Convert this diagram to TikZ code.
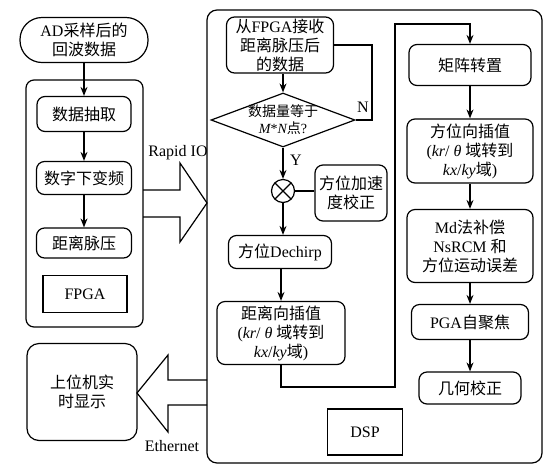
\documentclass[tikz,border=0pt]{standalone}
\usepackage{fontspec}
\setmainfont{Liberation Serif}
\newfontfamily\cjk{Noto Sans CJK SC}
\newcommand{\hz}[1]{{\cjk #1}}
\usetikzlibrary{arrows.meta,shapes.geometric}

\begin{document}
\begin{tikzpicture}[x=1pt,y=-1pt,line width=1.2pt,
  font=\fontsize{16}{19}\selectfont,
  box/.style={draw,rounded corners=8pt,align=center,inner sep=1pt},
  tag/.style={draw,align=center,inner sep=1pt},
  decide/.style={draw,diamond,minimum width=144pt,minimum height=54pt,inner sep=0pt},
  sumnode/.style={draw,circle,minimum size=23pt,inner sep=0pt,
    path picture={\draw (path picture bounding box.north west) -- (path picture bounding box.south east)
      (path picture bounding box.north east) -- (path picture bounding box.south west);}},
  arr/.style={-{Stealth[length=9pt,width=7pt]}}]
\useasboundingbox (0,0) rectangle (554,475);

% FPGA side
\draw[rounded corners=8pt] (26,80) rectangle (143,327);
\node[box,rounded corners=22pt,minimum width=128pt,minimum height=45pt] (ad) at (84,40) {AD\hz{采样后的}\\\hz{回波数据}};
\node[box,minimum width=94pt,minimum height=35pt] (extract) at (84,114) {\hz{数据抽取}};
\node[box,minimum width=95pt,minimum height=33pt] (ddc) at (84,178) {\hz{数字下变频}};
\node[box,minimum width=95pt,minimum height=30pt] (pc) at (84,243) {\hz{距离脉压}};
\node[tag,minimum width=84pt,minimum height=37pt] (fpga) at (85,294) {FPGA};
\draw[arr] (ad) -- (extract);
\draw[arr] (extract) -- (ddc);
\draw[arr] (ddc) -- (pc);

% links
\draw (143,190) -- (180,190) -- (180,163) -- (207,203) -- (180,242) -- (180,217) -- (143,217);
\node (rapid) at (178,153) {Rapid IO};
\draw (207,380) -- (168,380) -- (168,355) -- (137,393) -- (168,432) -- (168,405) -- (207,405);
\node (eth) at (172,446) {Ethernet};
\node[box,rounded corners=12pt,minimum width=110pt,minimum height=97pt] (host) at (82,392) {\hz{上位机实}\\\hz{时显示}};

% DSP side
\draw[rounded corners=10pt] (207,10) rectangle (542,463);
\node[box,minimum width=107pt,minimum height=56pt] (recv) at (280,45) {\hz{从}FPGA\hz{接收}\\\hz{距离脉压后}\\\hz{的数据}};
\node[decide] (check) at (283,120) {};
\node[align=center,font=\fontsize{14}{17}\selectfont] (checktext) at (check.center) {\hz{数据量等于}\\{\itshape M}*{\itshape N}\hz{点}?};
\node[sumnode] (mix) at (283,191) {};
\node[box,minimum width=72pt,minimum height=56pt] (acc) at (351,193) {\hz{方位加速}\\\hz{度校正}};
\node[box,minimum width=103pt,minimum height=33pt] (dechirp) at (280,252) {\hz{方位}Dechirp};
\node[box,minimum width=128pt,minimum height=63pt] (rinterp) at (281,333) {\hz{距离向插值}\\({\itshape kr}/ {\itshape θ} \hz{域转到}\\{\itshape kx}/{\itshape ky}\hz{域})};
\node[tag,minimum width=75pt,minimum height=46pt] (dsp) at (365,432) {DSP};
\node[box,minimum width=122pt,minimum height=41pt] (trans) at (470,65) {\hz{矩阵转置}};
\node[box,minimum width=126pt,minimum height=64pt] (ainterp) at (470,151) {\hz{方位向插值}\\({\itshape kr}/ {\itshape θ} \hz{域转到}\\{\itshape kx}/{\itshape ky}\hz{域})};
\node[box,minimum width=126pt,minimum height=73pt] (md) at (470,246) {Md\hz{法补偿}\\NsRCM \hz{和}\\\hz{方位运动误差}};
\node[box,minimum width=117pt,minimum height=35pt] (pga) at (470,322) {PGA\hz{自聚焦}};
\node[box,minimum width=102pt,minimum height=32pt] (geo) at (470,388) {\hz{几何校正}};
\coordinate (turnlow) at (395,387);
\coordinate (turnhigh) at (395,24);
\coordinate (backup) at (372,120);

\draw[arr] (recv.south -| check) -- (check);
\draw (check.east) -- (backup) |- (recv.east);
\node (no) at (363,107) {N};
\draw[arr] (check.south) -- (mix);
\node (yes) at (296,160) {Y};
\draw (acc.west |- mix) -- (mix.east);
\draw[arr] (mix) -- (mix |- dechirp.north);
\draw[arr] (dechirp.south -| rinterp) -- (rinterp);
\draw[arr] (rinterp.south) |- (turnlow) -- (turnhigh) -| (trans.north);
\draw[arr] (trans) -- (ainterp);
\draw[arr] (ainterp) -- (md);
\draw[arr] (md) -- (pga);
\draw[arr] (pga) -- (geo);
\end{tikzpicture}
\end{document}
